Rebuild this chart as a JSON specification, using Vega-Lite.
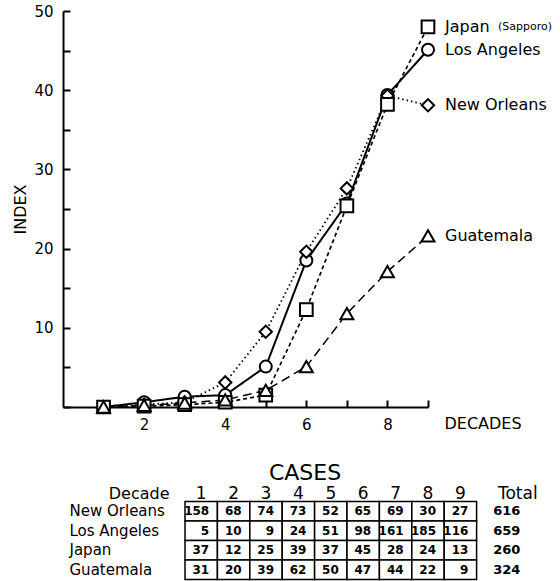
{
  "$schema": "https://vega.github.io/schema/vega-lite/v6.json",
  "padding": {"left": 12, "top": 4, "right": 0, "bottom": 0},
  "config": {
    "font": "DejaVu Sans",
    "view": {"stroke": null},
    "axis": {"labelColor": "black", "titleColor": "black", "domainColor": "black", "tickColor": "black", "grid": false, "titleFontWeight": "normal"},
    "title": {"color": "black", "fontWeight": "normal"}
  },
  "datasets": {
    "trend": [
      {"series": "Los Angeles", "decade": 1, "index": 0},
      {"series": "Los Angeles", "decade": 2, "index": 0.6},
      {"series": "Los Angeles", "decade": 3, "index": 1.3},
      {"series": "Los Angeles", "decade": 4, "index": 1.5},
      {"series": "Los Angeles", "decade": 5, "index": 5.1},
      {"series": "Los Angeles", "decade": 6, "index": 18.5},
      {"series": "Los Angeles", "decade": 7, "index": 25.7},
      {"series": "Los Angeles", "decade": 8, "index": 39.4},
      {"series": "Los Angeles", "decade": 9, "index": 45.1},
      {"series": "New Orleans", "decade": 1, "index": 0},
      {"series": "New Orleans", "decade": 2, "index": 0.3},
      {"series": "New Orleans", "decade": 3, "index": 0.6},
      {"series": "New Orleans", "decade": 4, "index": 3.1},
      {"series": "New Orleans", "decade": 5, "index": 9.5},
      {"series": "New Orleans", "decade": 6, "index": 19.6},
      {"series": "New Orleans", "decade": 7, "index": 27.6},
      {"series": "New Orleans", "decade": 8, "index": 39.3},
      {"series": "New Orleans", "decade": 9, "index": 38.1},
      {"series": "Japan", "decade": 1, "index": 0},
      {"series": "Japan", "decade": 2, "index": 0.1},
      {"series": "Japan", "decade": 3, "index": 0.3},
      {"series": "Japan", "decade": 4, "index": 0.6},
      {"series": "Japan", "decade": 5, "index": 1.5},
      {"series": "Japan", "decade": 6, "index": 12.3},
      {"series": "Japan", "decade": 7, "index": 25.4},
      {"series": "Japan", "decade": 8, "index": 38.2},
      {"series": "Japan", "decade": 9, "index": 48.0},
      {"series": "Guatemala", "decade": 1, "index": 0},
      {"series": "Guatemala", "decade": 2, "index": 0.2},
      {"series": "Guatemala", "decade": 3, "index": 0.5},
      {"series": "Guatemala", "decade": 4, "index": 0.9},
      {"series": "Guatemala", "decade": 5, "index": 2.1},
      {"series": "Guatemala", "decade": 6, "index": 5.1},
      {"series": "Guatemala", "decade": 7, "index": 11.8},
      {"series": "Guatemala", "decade": 8, "index": 17.1},
      {"series": "Guatemala", "decade": 9, "index": 21.6}
    ],
    "cases": [
      {"city": "New Orleans", "col": "1", "cases": 158},
      {"city": "New Orleans", "col": "2", "cases": 68},
      {"city": "New Orleans", "col": "3", "cases": 74},
      {"city": "New Orleans", "col": "4", "cases": 73},
      {"city": "New Orleans", "col": "5", "cases": 52},
      {"city": "New Orleans", "col": "6", "cases": 65},
      {"city": "New Orleans", "col": "7", "cases": 69},
      {"city": "New Orleans", "col": "8", "cases": 30},
      {"city": "New Orleans", "col": "9", "cases": 27},
      {"city": "New Orleans", "col": "Total", "cases": 616},
      {"city": "Los Angeles", "col": "1", "cases": 5},
      {"city": "Los Angeles", "col": "2", "cases": 10},
      {"city": "Los Angeles", "col": "3", "cases": 9},
      {"city": "Los Angeles", "col": "4", "cases": 24},
      {"city": "Los Angeles", "col": "5", "cases": 51},
      {"city": "Los Angeles", "col": "6", "cases": 98},
      {"city": "Los Angeles", "col": "7", "cases": 161},
      {"city": "Los Angeles", "col": "8", "cases": 185},
      {"city": "Los Angeles", "col": "9", "cases": 116},
      {"city": "Los Angeles", "col": "Total", "cases": 659},
      {"city": "Japan", "col": "1", "cases": 37},
      {"city": "Japan", "col": "2", "cases": 12},
      {"city": "Japan", "col": "3", "cases": 25},
      {"city": "Japan", "col": "4", "cases": 39},
      {"city": "Japan", "col": "5", "cases": 37},
      {"city": "Japan", "col": "6", "cases": 45},
      {"city": "Japan", "col": "7", "cases": 28},
      {"city": "Japan", "col": "8", "cases": 24},
      {"city": "Japan", "col": "9", "cases": 13},
      {"city": "Japan", "col": "Total", "cases": 260},
      {"city": "Guatemala", "col": "1", "cases": 31},
      {"city": "Guatemala", "col": "2", "cases": 20},
      {"city": "Guatemala", "col": "3", "cases": 39},
      {"city": "Guatemala", "col": "4", "cases": 62},
      {"city": "Guatemala", "col": "5", "cases": 50},
      {"city": "Guatemala", "col": "6", "cases": 47},
      {"city": "Guatemala", "col": "7", "cases": 44},
      {"city": "Guatemala", "col": "8", "cases": 22},
      {"city": "Guatemala", "col": "9", "cases": 9},
      {"city": "Guatemala", "col": "Total", "cases": 324}
    ]
  },
  "vconcat": [
    {
      "width": 365,
      "height": 396,
      "data": {"name": "trend"},
      "encoding": {
        "x": {"field": "decade", "type": "quantitative", "scale": {"domain": [0, 9], "nice": false},
          "axis": {"values": [1, 2, 3, 4, 5, 6, 7, 8, 9], "labelExpr": "datum.value % 2 == 0 ? datum.label : ''",
            "tickSize": -7, "tickWidth": 2, "domainWidth": 2, "labelFontSize": 15, "labelPadding": 17, "labelFlush": false,
            "title": "DECADES", "titleFontSize": 16, "titleX": 381, "titleY": 16, "titleAlign": "left", "titleBaseline": "middle", "titleAnchor": "start"}},
        "y": {"field": "index", "type": "quantitative", "scale": {"domain": [0, 50], "nice": false},
          "axis": {"values": [0, 5, 10, 15, 20, 25, 30, 35, 40, 45, 50], "labelExpr": "datum.value % 10 == 0 && datum.value > 0 ? datum.label : ''",
            "tickSize": -7, "tickWidth": 2, "domainWidth": 2, "labelFontSize": 15, "labelPadding": 17, "labelFlush": false,
            "title": "INDEX", "titleFontSize": 16, "titlePadding": 5}}
      },
      "layer": [
        {
          "mark": {"type": "line", "color": "black"},
          "encoding": {
            "detail": {"field": "series"},
            "strokeDash": {"field": "series", "type": "nominal", "legend": null,
              "scale": {"domain": ["Los Angeles", "New Orleans", "Japan", "Guatemala"], "range": [[1, 0], [1.5, 3], [4, 3], [9, 5]]}},
            "strokeWidth": {"field": "series", "type": "nominal", "legend": null,
              "scale": {"domain": ["Los Angeles", "New Orleans", "Japan", "Guatemala"], "range": [2, 1.5, 2.2, 2]}}
          }
        },
        {
          "mark": {"type": "point", "filled": true, "fill": "white", "stroke": "black", "strokeWidth": 2, "opacity": 1},
          "encoding": {
            "shape": {"field": "series", "type": "nominal", "legend": null,
              "scale": {"domain": ["Los Angeles", "New Orleans", "Japan", "Guatemala"], "range": ["circle", "diamond", "square", "triangle-up"]}},
            "size": {"field": "series", "type": "nominal", "legend": null,
              "scale": {"domain": ["Los Angeles", "New Orleans", "Japan", "Guatemala"], "range": [144, 169, 100, 110]}}
          }
        },
        {
          "transform": [{"filter": "datum.decade == 9"}],
          "mark": {"type": "text", "align": "left", "baseline": "middle", "dx": 17, "fontSize": 16, "color": "black"},
          "encoding": {"text": {"field": "series"}}
        },
        {
          "transform": [{"filter": "datum.decade == 9 && datum.series == 'Japan'"}],
          "mark": {"type": "text", "align": "left", "baseline": "middle", "dx": 70, "fontSize": 11, "color": "black"},
          "encoding": {"text": {"value": "(Sapporo)"}}
        }
      ]
    },
    {
      "width": 446,
      "height": 78,
      "data": {"name": "cases"},
      "title": {"text": "CASES", "fontSize": 22, "dx": 19, "offset": 0},
      "encoding": {
        "x": {"field": "col", "type": "ordinal",
          "scale": {"domain": ["pad1", "pad2", "1", "2", "3", "4", "5", "6", "7", "8", "9", "Total"], "paddingInner": 0, "paddingOuter": 0.883, "align": 1},
          "axis": {"orient": "top", "domain": false, "ticks": false, "labelAngle": 0, "labelFontSize": 17, "labelPadding": -1,
            "labelExpr": "indexof(['pad1', 'pad2'], datum.value) >= 0 ? '' : datum.label",
            "labelOffset": {"condition": {"test": "datum.value == 'Total'", "value": 25}, "value": 0},
            "title": "Decade", "titleFontSize": 16, "titleX": 106, "titleY": -8, "titleAlign": "right", "titleBaseline": "middle", "titleAnchor": "start"}},
        "y": {"field": "city", "type": "nominal",
          "scale": {"domain": ["New Orleans", "Los Angeles", "Japan", "Guatemala"], "paddingInner": 0, "paddingOuter": 0},
          "axis": {"domain": false, "ticks": false, "labelAlign": "left", "labelPadding": -6, "labelFontSize": 15, "title": null}}
      },
      "layer": [
        {
          "transform": [{"filter": "datum.col != 'Total'"}],
          "mark": {"type": "rect", "fill": "white", "stroke": "black", "strokeWidth": 1.5}
        },
        {
          "transform": [{"filter": "datum.col != 'Total'"}],
          "mark": {"type": "text", "align": "right", "baseline": "middle", "dx": 8, "fontSize": 12, "fontWeight": "bold", "color": "black"},
          "encoding": {"text": {"field": "cases"}}
        },
        {
          "transform": [{"filter": "datum.col == 'Total'"}],
          "mark": {"type": "text", "align": "center", "baseline": "middle", "dx": 14, "fontSize": 13, "fontWeight": "bold", "color": "black"},
          "encoding": {"text": {"field": "cases"}}
        }
      ]
    }
  ],
  "spacing": 94.5,
  "bounds": "flush"
}
